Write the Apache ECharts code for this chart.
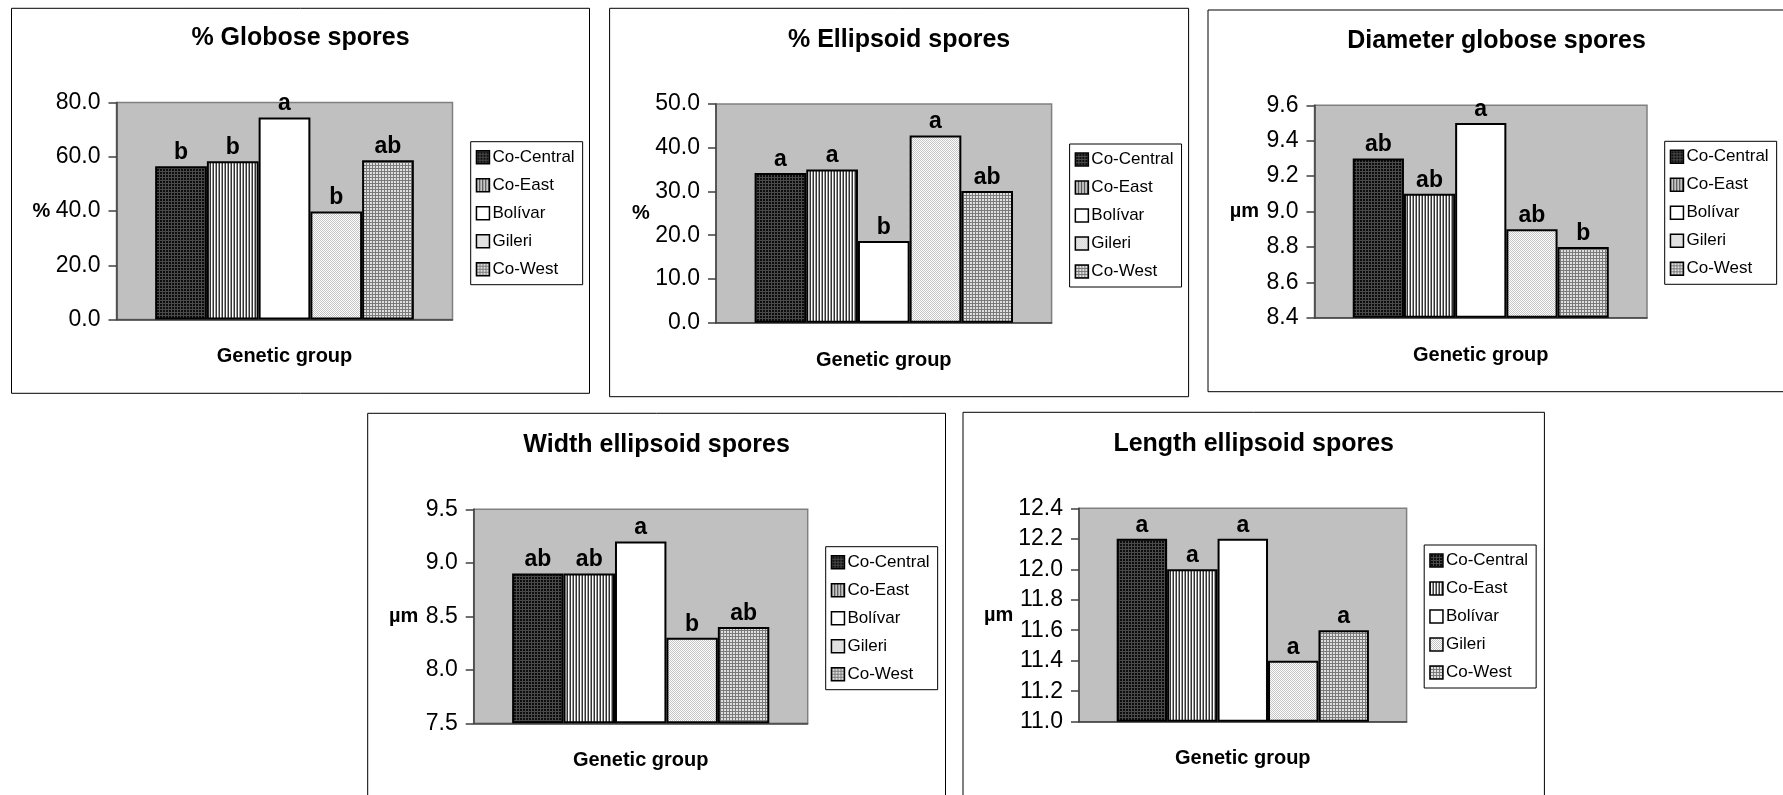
<!DOCTYPE html>
<html>
<head>
<meta charset="utf-8">
<title>Spore traits by genetic group</title>
<script src="https://cdn.jsdelivr.net/npm/echarts@6/dist/echarts.min.js"></script>
<style>
  html, body { margin: 0; padding: 0; background: #fff; }
  #chart { width: 1783px; height: 795px; }
</style>
</head>
<body>
<div id="chart"></div>
<script>
// genetic groups, legend order
const groups = ['Co-Central', 'Co-East', 'Bolívar', 'Gileri', 'Co-West'];

// means
const globosePct = [56.5, 58.3, 74.5, 39.8, 58.7];
const ellipsoidPct = [34.2, 35.0, 18.7, 42.8, 30.1];
const globoseDiameter = [9.3, 9.1, 9.5, 8.9, 8.8];
const ellipsoidWidth = [8.9, 8.9, 9.2, 8.3, 8.4];
const ellipsoidLength = [12.2, 12.0, 12.2, 11.4, 11.6];

// significance letters over the bars
const globosePctLetters = ['b', 'b', 'a', 'b', 'ab'];
const ellipsoidPctLetters = ['a', 'a', 'b', 'a', 'ab'];
const globoseDiameterLetters = ['ab', 'ab', 'a', 'ab', 'b'];
const ellipsoidWidthLetters = ['ab', 'ab', 'a', 'b', 'ab'];
const ellipsoidLengthLetters = ['a', 'a', 'a', 'a', 'a'];

// y axis [min, max, step]
const globosePctTicks = [0, 80, 20];
const ellipsoidPctTicks = [0, 50, 10];
const globoseDiameterTicks = [8.4, 9.6, 0.2];
const ellipsoidWidthTicks = [7.5, 9.5, 0.5];
const ellipsoidLengthTicks = [11.0, 12.4, 0.2];

const FONT = 'Arial, "Liberation Sans", sans-serif';

// box = panel frame, plot = grid rect [left, top, width, height]
const panels = [
    { title: '% Globose spores', unit: '%', values: globosePct, letters: globosePctLetters, ticks: globosePctTicks,
      box: [11.5, 8.3, 578, 385], plot: [116.5, 102.5, 336, 217], legend: [470.7, 141.7], titleY: 40, xNameY: 356, unitGap: 75 },
    { title: '% Ellipsoid spores', unit: '%', values: ellipsoidPct, letters: ellipsoidPctLetters, ticks: ellipsoidPctTicks,
      box: [609.6, 8.3, 579, 388.4], plot: [716, 104, 335.6, 218.7], legend: [1069.6, 144], titleY: 42, xNameY: 360, unitGap: 75 },
    { title: 'Diameter globose spores', unit: 'µm', values: globoseDiameter, letters: globoseDiameterLetters, ticks: globoseDiameterTicks,
      box: [1208, 10, 577, 381.7], plot: [1314.5, 105.3, 332.5, 212.4], legend: [1664.7, 141.3], titleY: 43, xNameY: 355, unitGap: 70 },
    { title: 'Width ellipsoid spores', unit: 'µm', values: ellipsoidWidth, letters: ellipsoidWidthLetters, ticks: ellipsoidWidthTicks,
      box: [367.7, 413.3, 577.8, 400], plot: [473.7, 509.3, 334, 214], legend: [825.7, 546.7], titleY: 447, xNameY: 760, unitGap: 70 },
    { title: 'Length ellipsoid spores', unit: 'µm', values: ellipsoidLength, letters: ellipsoidLengthLetters, ticks: ellipsoidLengthTicks,
      box: [963, 412.3, 581.4, 400], plot: [1079, 508.3, 327.6, 213.4], legend: [1424.2, 545], titleY: 446, xNameY: 758, unitGap: 80 }
];

// small tiled canvases standing in for the Excel hatch fills
function makeTile(w, h, paint) {
    const c = document.createElement('canvas');
    c.width = w; c.height = h;
    paint(c.getContext('2d'));
    return { image: c, repeat: 'repeat' };
}
const fills = [
    makeTile(3, 3, g => { g.fillStyle = '#0d0d0d'; g.fillRect(0, 0, 3, 3); g.fillStyle = '#4a4a4a'; g.fillRect(0, 0, 3, 1); g.fillRect(0, 0, 1, 3); }),
    makeTile(3, 1, g => { g.fillStyle = '#333'; g.fillRect(0, 0, 1, 1); g.fillStyle = '#fff'; g.fillRect(1, 0, 1, 1); g.fillStyle = '#999'; g.fillRect(2, 0, 1, 1); }),
    '#ffffff',
    makeTile(2, 2, g => { g.fillStyle = '#fff'; g.fillRect(0, 0, 2, 2); g.fillStyle = '#c4c4c4'; g.fillRect(0, 0, 1, 1); g.fillRect(1, 1, 1, 1); }),
    makeTile(3, 3, g => { g.fillStyle = '#e0e0e0'; g.fillRect(0, 0, 3, 3); g.fillStyle = '#7a7a7a'; g.fillRect(0, 0, 3, 1); g.fillRect(0, 0, 1, 3); })
];

const chart = echarts.init(document.getElementById('chart'));

const series = [];
panels.forEach((p, i) => {
    groups.forEach((name, j) => {
        series.push({
            type: 'bar',
            name: name,
            xAxisIndex: i,
            yAxisIndex: i,
            data: [p.values[j]],
            barGap: '0%',
            barCategoryGap: '23%',
            clip: true,
            itemStyle: { color: fills[j], borderColor: '#000', borderWidth: 2 },
            label: {
                show: true, position: 'top', distance: 2,
                formatter: p.letters[j],
                fontFamily: FONT, fontSize: 23, fontWeight: 'bold', color: '#000'
            }
        });
    });
});

const option = {
    animation: false,
    textStyle: { fontFamily: FONT },
    graphic: panels.map(p => ({
        type: 'rect', silent: true, z: 100,
        shape: { x: p.box[0], y: p.box[1], width: p.box[2], height: p.box[3] },
        style: { fill: 'none', stroke: '#000', lineWidth: 1 }
    })),
    title: panels.map(p => ({
        text: p.title,
        left: p.box[0] + p.box[2] / 2,
        top: p.titleY - 14,
        textAlign: 'center',
        padding: 0,
        textStyle: { fontFamily: FONT, fontSize: 25, fontWeight: 'bold', color: '#000' }
    })),
    legend: panels.map(p => ({
        data: groups,
        orient: 'vertical',
        left: p.legend[0],
        top: p.legend[1],
        padding: [7, 8, 7, 5],
        itemGap: 11,
        itemWidth: 13,
        itemHeight: 13,
        icon: 'rect',
        selectedMode: false,
        backgroundColor: '#fff',
        borderColor: '#000',
        borderWidth: 1,
        itemStyle: { borderColor: '#000', borderWidth: 1.5 },
        textStyle: { fontFamily: FONT, fontSize: 17, color: '#000', lineHeight: 13, padding: [0, 0, 0, -2] }
    })),
    grid: panels.map(p => ({
        left: p.plot[0], top: p.plot[1], width: p.plot[2], height: p.plot[3],
        containLabel: false,
        outerBoundsMode: 'none',
        show: true,
        backgroundColor: '#c0c0c0',
        borderColor: '#808080',
        borderWidth: 1.5
    })),
    xAxis: panels.map((p, i) => ({
        type: 'category',
        gridIndex: i,
        data: [''],
        name: 'Genetic group',
        nameLocation: 'middle',
        nameGap: p.xNameY - (p.plot[1] + p.plot[3]),
        nameTextStyle: { fontFamily: FONT, fontSize: 20, fontWeight: 'bold', color: '#000', verticalAlign: 'middle' },
        axisLine: { lineStyle: { color: '#404040', width: 1.5 } },
        axisTick: { show: false },
        axisLabel: { show: false }
    })),
    yAxis: panels.map((p, i) => ({
        type: 'value',
        gridIndex: i,
        min: p.ticks[0],
        max: p.ticks[1],
        interval: p.ticks[2],
        startValue: p.ticks[0],
        name: p.unit,
        nameLocation: 'middle',
        nameRotate: 0,
        nameGap: p.unitGap,
        nameTextStyle: { fontFamily: FONT, fontSize: 20, fontWeight: 'bold', color: '#000', align: 'center', verticalAlign: 'middle' },
        axisLine: { show: true, lineStyle: { color: '#404040', width: 1.5 } },
        axisTick: { show: true, length: 8, lineStyle: { color: '#404040', width: 1.5 } },
        axisLabel: { fontFamily: FONT, fontSize: 23, color: '#000', margin: 16, formatter: v => v.toFixed(1) },
        splitLine: { show: false }
    })),
    series: series
};

chart.setOption(option);
</script>
</body>
</html>
